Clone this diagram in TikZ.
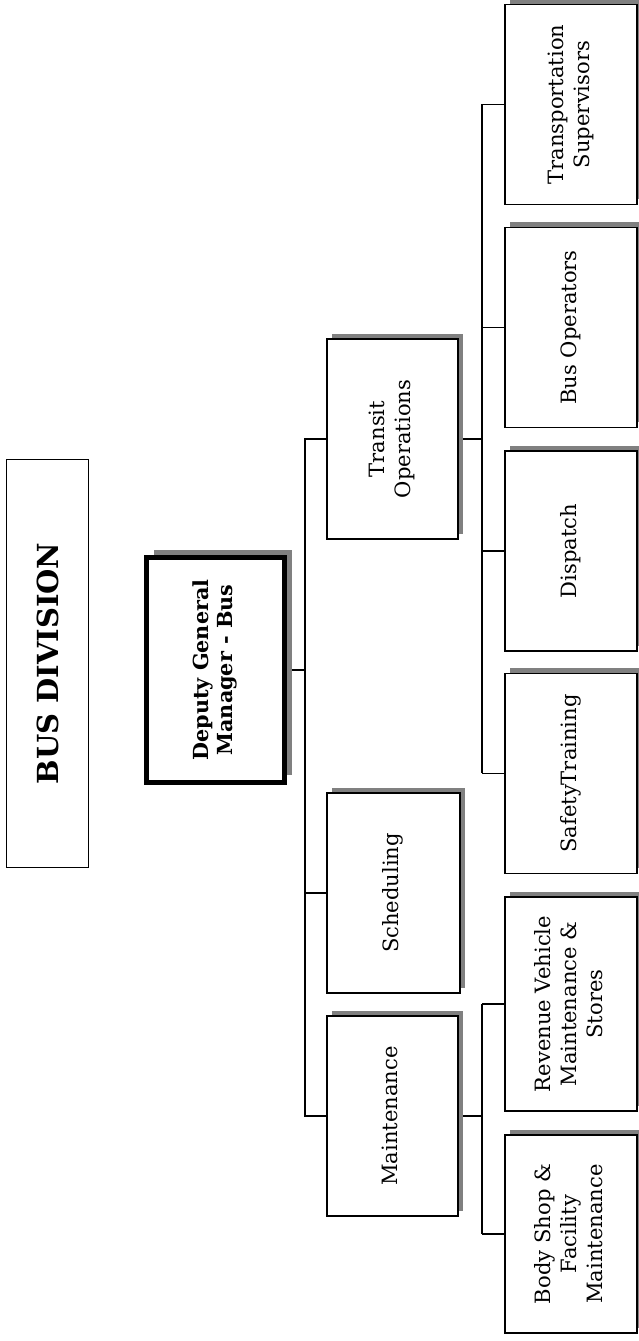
\documentclass[tikz,border=0pt]{standalone}
\usepackage{fontspec}
\setmainfont{DejaVu Serif}
\usepackage{tikz}
\usetikzlibrary{shadows}
\pgfdeclarelayer{edgelayer}
\pgfdeclarelayer{nodelayer}
\pgfsetlayers{edgelayer,nodelayer,main}
\newcommand{\vlabel}[1]{\rotatebox{90}{\begin{tabular}{@{}c@{}}#1\end{tabular}}}
\tikzstyle{edge}=[draw=black, line width=0.75pt]
\tikzstyle{title}=[rectangle, draw=black, fill=white, line width=0.8pt, inner sep=0pt, minimum width=1.64cm, minimum height=8.16cm, font=\fontsize{16.5}{20}\selectfont\bfseries]
\tikzstyle{head}=[rectangle, draw=black, fill=white, line width=2.85pt, inner sep=0pt, minimum width=2.76cm, minimum height=4.5cm, drop shadow={shadow xshift=0.14cm, shadow yshift=0.14cm, fill=gray, opacity=1}, font=\fontsize{11.8}{14}\selectfont\bfseries]
\tikzstyle{unit}=[rectangle, draw=black, fill=white, line width=0.75pt, inner sep=0pt, minimum width=2.62cm, minimum height=4cm, drop shadow={shadow xshift=0.1cm, shadow yshift=0.1cm, fill=gray, opacity=1}, font=\fontsize{12}{14.8}\selectfont]

\begin{document}
\begin{tikzpicture}
			\useasboundingbox (0, 0) rectangle (12.76, 26.82);
			\begin{pgfonlayer}{nodelayer}
			\node [style=title] (0) at (0.95, 13.55) {\rotatebox{90}{BUS DIVISION}};
			\node [style=head] (1) at (4.31, 13.42) {\vlabel{Deputy General\\Manager - Bus}};
			\node [style=unit] (2) at (7.85, 18.04) {\vlabel{Transit\\Operations}};
			\node [style=unit, minimum width=2.66cm] (3) at (7.87, 8.96) {\vlabel{Scheduling}};
			\node [style=unit] (4) at (7.85, 4.5) {\vlabel{Maintenance}};
			\node [style=unit, minimum width=2.64cm] (5) at (11.42, 24.73) {\vlabel{Transportation\\Supervisors}};
			\node [style=unit, minimum width=2.64cm] (6) at (11.42, 20.27) {\vlabel{Bus Operators}};
			\node [style=unit, minimum width=2.64cm] (7) at (11.42, 15.8) {\vlabel{Dispatch}};
			\node [style=unit, minimum width=2.64cm] (8) at (11.42, 11.35) {\vlabel{SafetyTraining}};
			\node [style=unit, minimum width=2.64cm, minimum height=4.28cm] (9) at (11.42, 6.74) {\vlabel{Revenue Vehicle\\Maintenance \&\\Stores}};
			\node [style=unit, minimum width=2.64cm, minimum height=3.96cm] (10) at (11.42, 2.14) {\vlabel{Body Shop \&\\Facility\\Maintenance}};
			\coordinate (11) at (6.1, 13.42);
			\coordinate (12) at (9.64, 18.04);
			\end{pgfonlayer}
			\begin{pgfonlayer}{edgelayer}
			\draw [style=edge] (1.east) to (11);
			\draw [style=edge] (2.west) -| (4.west -| 11) -- (4.west);
			\draw [style=edge] (3.west) to (3.west -| 11);
			\draw [style=edge] (2.east) to (12);
			\draw [style=edge] (5.west -| 12) to (8.west -| 12);
			\draw [style=edge] (5.west) to (5.west -| 12);
			\draw [style=edge] (6.west) to (6.west -| 12);
			\draw [style=edge] (7.west) to (7.west -| 12);
			\draw [style=edge] (8.west) to (8.west -| 12);
			\draw [style=edge] (4.east) to (4.east -| 12);
			\draw [style=edge] (9.west -| 12) to (10.west -| 12);
			\draw [style=edge] (9.west) to (9.west -| 12);
			\draw [style=edge] (10.west) to (10.west -| 12);
			\end{pgfonlayer}
\end{tikzpicture}
\end{document}
